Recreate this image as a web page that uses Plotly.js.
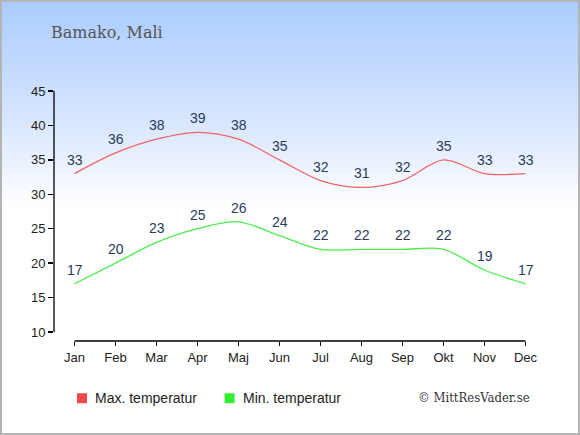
<!DOCTYPE html>
<html><head><meta charset="utf-8">
<script src="https://cdn.plot.ly/plotly-3.0.1.min.js"></script>
<style>
html,body{margin:0;padding:0;}
body{width:580px;height:435px;overflow:hidden;}
#wrap{position:relative;width:576px;height:431px;border:2px solid #b4b4b4;
background:linear-gradient(to bottom,#aaccff 0px,#d8e6ff 120px,#ffffff 205px,#ffffff 100%);}
#chart{position:absolute;left:-2px;top:-2px;width:580px;height:435px;}
</style></head>
<body><div id="wrap"><div id="chart"></div></div>
<script>
const months = ['Jan','Feb','Mar','Apr','Maj','Jun','Jul','Aug','Sep','Okt','Nov','Dec'];
const maxTemp = [33,36,38,39,38,35,32,31,32,35,33,33];
const minTemp = [17,20,23,25,26,24,22,22,22,22,19,17];
const yTicks = [10,15,20,25,30,35,40,45];
const title = 'Bamako, Mali';
const seriesNames = ['Max. temperatur','Min. temperatur'];
const colors = ['#f06464','#4cee4c'];
const legendColors = ['#f04a4a','#33ee33'];

const idx = months.map((m,i)=>i);
const traces = [
  {x: idx, y: maxTemp, mode:'lines', line:{color:colors[0], width:1.3, shape:'spline', smoothing:0.9}, hoverinfo:'none', showlegend:false},
  {x: idx, y: minTemp, mode:'lines', line:{color:colors[1], width:1.3, shape:'spline', smoothing:0.9}, hoverinfo:'none', showlegend:false}
];
const annotations = [];
[maxTemp, minTemp].forEach(arr => arr.forEach((v,i) => annotations.push({
  x:i, y:v, xref:'x', yref:'y', text:String(v), showarrow:false, yshift:14,
  font:{family:'Liberation Sans, Arial, sans-serif', size:14, color:'#2a3b5c'}
})));
annotations.push({xref:'paper', yref:'paper', x:-0.01, y:(340.7-32)/250.2, xanchor:'left', yanchor:'middle',
  text:title, showarrow:false, font:{family:'DejaVu Serif, serif', size:16, color:'#555555'}});
// legend texts
const legX = [93, 241];
seriesNames.forEach((n,k)=>annotations.push({xref:'paper', yref:'paper',
  x:(legX[k]-54)/492, y:(340.7-398)/250.2, xanchor:'left', yanchor:'middle', text:n, showarrow:false,
  font:{family:'Liberation Sans, Arial, sans-serif', size:14, color:'#222222'}}));
annotations.push({xref:'paper', yref:'paper', x:(416-54)/492, y:(340.7-397)/250.2, xanchor:'left', yanchor:'middle',
  text:'© MittResVader.se', showarrow:false, font:{family:'DejaVu Serif Condensed, DejaVu Serif, serif', size:13, color:'#333333'}});

const shapes = [
  {type:'line', xref:'paper', yref:'y', x0:0, x1:0, y0:10, y1:45, line:{color:'#000', width:1.3}},
  {type:'line', xref:'x', yref:'paper', x0:0, x1:11, y0:0, y1:0, line:{color:'#000', width:1.3}}
];
const legSq = [77, 224.6];
legSq.forEach((sx,k)=>shapes.push({type:'rect', xref:'paper', yref:'paper',
  x0:(sx-54)/492, x1:(sx+10-54)/492, y0:(340.7-393)/250.2, y1:(340.7-403)/250.2,
  fillcolor:legendColors[k], line:{width:0}}));

const layout = {
  width:580, height:435,
  margin:{l:54, r:34, t:90.5, b:94.3, pad:0},
  paper_bgcolor:'rgba(0,0,0,0)', plot_bgcolor:'rgba(0,0,0,0)',
  showlegend:false,
  xaxis:{range:[-0.5,11.5], tickmode:'array', tickvals:idx, ticktext:months, showgrid:false, zeroline:false,
    showline:false, ticks:'outside', ticklen:4, tickwidth:1.3, tickcolor:'#000',
    tickfont:{family:'Liberation Sans, Arial, sans-serif', size:13, color:'#222'}, fixedrange:true},
  yaxis:{range:[8.69,45], tickmode:'array', tickvals:yTicks, showgrid:false, zeroline:false,
    showline:false, ticks:'outside', ticklen:5, tickwidth:1.3, tickcolor:'#000',
    tickfont:{family:'Liberation Sans, Arial, sans-serif', size:13, color:'#222'}, fixedrange:true},
  annotations:annotations, shapes:shapes
};
Plotly.newPlot('chart', traces, layout, {staticPlot:true, displayModeBar:false});
</script></body></html>
